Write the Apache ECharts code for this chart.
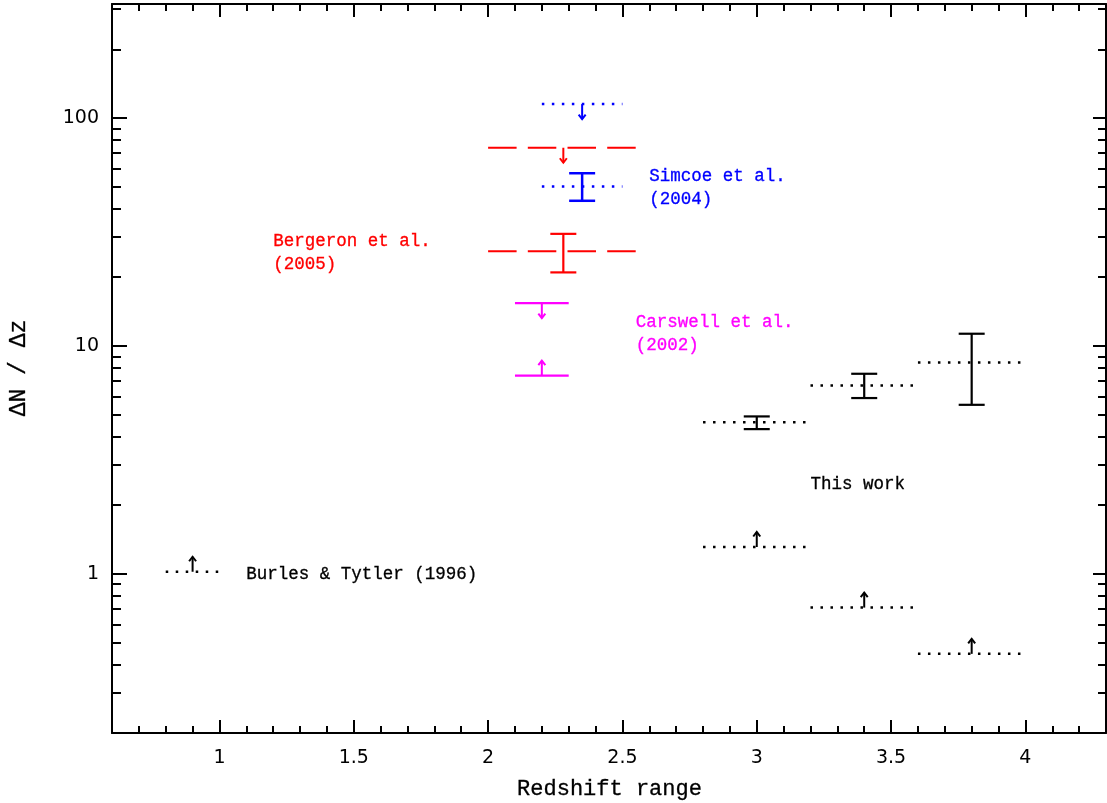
<!DOCTYPE html>
<html><head><meta charset="utf-8">
<script src="https://cdn.jsdelivr.net/npm/echarts@6/dist/echarts.min.js"></script>
<style>html,body{margin:0;padding:0;background:#fff}#c{width:1107px;height:803px}</style>
</head><body><div id="c"></div>
<script>
// ---------------- data ----------------
const xMajorTicks = [1, 1.5, 2, 2.5, 3, 3.5, 4];
const xMinorTicks = [0.7, 0.8, 0.9, 1.1, 1.2, 1.3, 1.4, 1.6, 1.7, 1.8, 1.9, 2.1, 2.2, 2.3, 2.4,
  2.6, 2.7, 2.8, 2.9, 3.1, 3.2, 3.3, 3.4, 3.6, 3.7, 3.8, 3.9, 4.1, 4.2];
const yMajorTicks = [1, 10, 100];
const yMinorTicks = [0.3, 0.4, 0.5, 0.6, 0.7, 0.8, 0.9, 2, 3, 4, 5, 6, 7, 8, 9,
  20, 30, 40, 50, 60, 70, 80, 90, 200, 300];

// This work (black, dotted)
const thisWorkZmin = [2.8, 3.2, 3.6];
const thisWorkZmax = [3.2, 3.6, 4.0];
const thisWorkZmid = [3.0, 3.4, 3.8];
const thisWorkValue = [4.62, 6.70, 8.45];
const thisWorkErrLo = [4.31, 5.90, 5.51];
const thisWorkErrHi = [4.90, 7.54, 11.3];
const thisWorkLowerLimit = [1.31, 0.71, 0.445];

// Burles & Tytler (1996) (black, dotted)
const burlesZmin = [0.8];
const burlesZmax = [1.0];
const burlesZmid = [0.9];
const burlesLowerLimit = [1.02];

// Bergeron et al. (2005) (red, dashed)
const bergeronZmin = [2.0];
const bergeronZmax = [2.55];
const bergeronZmid = [2.28];
const bergeronUpperLimit = [74];
const bergeronValue = [26];
const bergeronErrLo = [21];
const bergeronErrHi = [31];

// Simcoe et al. (2004) (blue, dotted)
const simcoeZmin = [2.2];
const simcoeZmax = [2.5];
const simcoeZmid = [2.35];
const simcoeUpperLimit = [115];
const simcoeValue = [50];
const simcoeErrLo = [43.3];
const simcoeErrHi = [57.2];

// Carswell et al. (2002) (magenta, solid)
const carswellZmin = [2.1];
const carswellZmax = [2.3];
const carswellZmid = [2.2];
const carswellUpperLimit = [15.4];
const carswellLowerLimit = [7.4];

// annotation texts
const labelTexts = ['Bergeron et al.\n(2005)', 'Simcoe et al.\n(2004)', 'Carswell et al.\n(2002)', 'This work', 'Burles & Tytler (1996)'];

// ---------------- helpers ----------------
const L = v => Math.log10(v);
const X_MIN = 0.6, X_MAX = 4.3, Y_MIN = L(0.2), Y_MAX = 2.5;
const BLACK = '#000000', RED = '#ff0000', BLUE = '#0000ff', MAGENTA = '#ff00ff';
const DOTTED = [2.5, 7.5];
const DASHED = [28.5, 11.2];
const ANN_FONT = '17.5px "Liberation Mono", monospace';

function segSeries(zmin, zmax, vals, color, dash, width) {
  return {
    type: 'custom', xAxisIndex: 0, yAxisIndex: 0, silent: true, z: 3,
    data: vals.map((v, i) => [zmin[i], zmax[i], L(v)]),
    encode: { x: [0, 1], y: 2 },
    renderItem(params, api) {
      const p1 = api.coord([api.value(0), api.value(2)]);
      const p2 = api.coord([api.value(1), api.value(2)]);
      return { type: 'line', shape: { x1: p1[0], y1: p1[1], x2: p2[0], y2: p2[1] },
        style: { stroke: color, lineWidth: width, lineDash: dash || null, lineCap: 'butt' } };
    }
  };
}
function errSeries(zmid, lo, hi, color, width) {
  const cap = 13;
  return {
    type: 'custom', xAxisIndex: 0, yAxisIndex: 0, silent: true, z: 4,
    data: zmid.map((z, i) => [z, L(lo[i]), L(hi[i])]),
    encode: { x: 0, y: [1, 2] },
    renderItem(params, api) {
      const a = api.coord([api.value(0), api.value(1)]);
      const b = api.coord([api.value(0), api.value(2)]);
      const st = { stroke: color, lineWidth: width };
      return { type: 'group', children: [
        { type: 'line', shape: { x1: a[0], y1: a[1], x2: b[0], y2: b[1] }, style: st },
        { type: 'line', shape: { x1: a[0] - cap, y1: a[1], x2: a[0] + cap, y2: a[1] }, style: st },
        { type: 'line', shape: { x1: b[0] - cap, y1: b[1], x2: b[0] + cap, y2: b[1] }, style: st }
      ] };
    }
  };
}
// dir: +1 = lower limit (arrow up), -1 = upper limit (arrow down)
function arrowSeries(zmid, vals, color, dir) {
  const len = 15, hw = 3.5, hh = 4.5;
  return {
    type: 'custom', xAxisIndex: 0, yAxisIndex: 0, silent: true, z: 5,
    data: zmid.map((z, i) => [z, L(vals[i])]),
    encode: { x: 0, y: 1 },
    renderItem(params, api) {
      const p = api.coord([api.value(0), api.value(1)]);
      const tipY = p[1] - dir * len;
      const st = { stroke: color, lineWidth: 2, fill: null };
      return { type: 'group', children: [
        { type: 'line', shape: { x1: p[0], y1: p[1], x2: p[0], y2: tipY }, style: st },
        { type: 'polyline', shape: { points: [[p[0] - hw, tipY + dir * hh], [p[0], tipY], [p[0] + hw, tipY + dir * hh]] }, style: st }
      ] };
    }
  };
}
function textSeries(idx, z, logy, color) {
  const lh = 23;
  return {
    type: 'custom', xAxisIndex: 0, yAxisIndex: 0, silent: true, z: 6,
    data: [[z, logy]],
    encode: { x: 0, y: 1 },
    renderItem(params, api) {
      const p = api.coord([api.value(0), api.value(1)]);
      return { type: 'text', x: p[0], y: p[1] - lh / 2,
        style: { text: labelTexts[idx], fill: color, stroke: color, lineWidth: 0.3, font: ANN_FONT, lineHeight: lh, align: 'left', verticalAlign: 'top' } };
    }
  };
}

function xAxis(position, ticks, len, showLine, labels) {
  return {
    type: 'value', position, min: X_MIN, max: X_MAX,
    axisLine: { show: showLine, onZero: false, lineStyle: { color: BLACK, width: 2 } },
    splitLine: { show: false },
    axisTick: { show: true, inside: true, length: len, customValues: ticks, lineStyle: { color: BLACK, width: 2 } },
    axisLabel: labels ? { show: true, customValues: ticks, margin: 16, color: BLACK,
      fontFamily: '"DejaVu Sans"', fontSize: 19, formatter: v => String(v) } : { show: false }
  };
}
function yAxis(position, ticks, len, showLine, labels) {
  return {
    type: 'value', position, min: Y_MIN, max: Y_MAX,
    axisLine: { show: showLine, onZero: false, lineStyle: { color: BLACK, width: 2 } },
    splitLine: { show: false },
    axisTick: { show: true, inside: true, length: len, customValues: ticks.map(L), lineStyle: { color: BLACK, width: 2 } },
    axisLabel: labels ? { show: true, customValues: ticks.map(L), margin: 13, color: BLACK,
      fontFamily: '"DejaVu Sans"', fontSize: 19, formatter: v => String(Math.round(Math.pow(10, v))) } : { show: false }
  };
}

const chart = echarts.init(document.getElementById('c'), null, { renderer: 'canvas' });
chart.setOption({
  animation: false,
  backgroundColor: '#ffffff',
  grid: { left: 112, right: 1, top: 4, bottom: 70, containLabel: false },
  xAxis: [
    xAxis('bottom', xMajorTicks, 13, true, true),
    xAxis('bottom', xMinorTicks, 7, false, false),
    xAxis('top', xMajorTicks, 13, true, false),
    xAxis('top', xMinorTicks, 7, false, false)
  ],
  yAxis: [
    yAxis('left', yMajorTicks, 15, true, true),
    yAxis('left', yMinorTicks, 9, false, false),
    yAxis('right', yMajorTicks, 13, true, false),
    yAxis('right', yMinorTicks, 8, false, false)
  ],
  graphic: [
    { type: 'text', x: 609.5, y: 789, style: { text: 'Redshift range', font: '22px "Liberation Mono", monospace', fill: BLACK, stroke: BLACK, lineWidth: 0.3, align: 'center', verticalAlign: 'middle' } },
    { type: 'text', x: 19, y: 368, rotation: Math.PI / 2, style: { text: 'ΔN / Δz', font: '23px "Liberation Mono", monospace', fill: BLACK, stroke: BLACK, lineWidth: 0.3, align: 'center', verticalAlign: 'middle' } }
  ],
  series: [
    // This work
    segSeries(thisWorkZmin, thisWorkZmax, thisWorkValue, BLACK, DOTTED, 2.5),
    errSeries(thisWorkZmid, thisWorkErrLo, thisWorkErrHi, BLACK, 2.2),
    segSeries(thisWorkZmin, thisWorkZmax, thisWorkLowerLimit, BLACK, DOTTED, 2.5),
    arrowSeries(thisWorkZmid, thisWorkLowerLimit, BLACK, 1),
    // Burles & Tytler
    segSeries(burlesZmin, burlesZmax, burlesLowerLimit, BLACK, DOTTED, 2.5),
    arrowSeries(burlesZmid, burlesLowerLimit, BLACK, 1),
    // Bergeron
    segSeries(bergeronZmin, bergeronZmax, bergeronUpperLimit, RED, DASHED, 2.2),
    arrowSeries(bergeronZmid, bergeronUpperLimit, RED, -1),
    segSeries(bergeronZmin, bergeronZmax, bergeronValue, RED, DASHED, 2.2),
    errSeries(bergeronZmid, bergeronErrLo, bergeronErrHi, RED, 2.2),
    // Simcoe
    segSeries(simcoeZmin, simcoeZmax, simcoeUpperLimit, BLUE, DOTTED, 2.5),
    arrowSeries(simcoeZmid, simcoeUpperLimit, BLUE, -1),
    segSeries(simcoeZmin, simcoeZmax, simcoeValue, BLUE, DOTTED, 2.5),
    errSeries(simcoeZmid, simcoeErrLo, simcoeErrHi, BLUE, 2.5),
    // Carswell
    segSeries(carswellZmin, carswellZmax, carswellUpperLimit, MAGENTA, null, 2.2),
    arrowSeries(carswellZmid, carswellUpperLimit, MAGENTA, -1),
    segSeries(carswellZmin, carswellZmax, carswellLowerLimit, MAGENTA, null, 2.2),
    arrowSeries(carswellZmid, carswellLowerLimit, MAGENTA, 1),
    // annotations
    textSeries(0, 1.2, 1.460, RED),
    textSeries(1, 2.6, 1.745, BLUE),
    textSeries(2, 2.55, 1.105, MAGENTA),
    textSeries(3, 3.2, 0.394, BLACK),
    textSeries(4, 1.1, -0.005, BLACK)
  ]
});
</script>
</body></html>
